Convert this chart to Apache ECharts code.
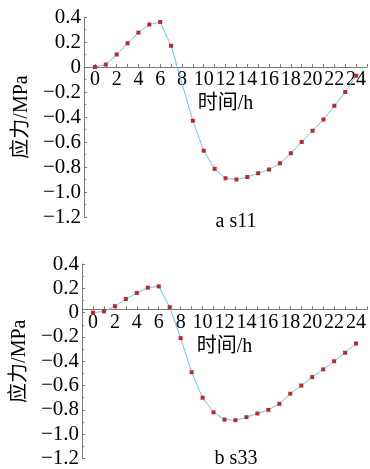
<!DOCTYPE html>
<html>
<head>
<meta charset="utf-8">
<script src="https://cdn.jsdelivr.net/npm/echarts@6/dist/echarts.min.js"></script>
<style>
	html, body { margin: 0; padding: 0; background: #fff; }
	#chart { width: 370px; height: 469px; }
</style>
</head>
<body>
<div id="chart"></div>
<script>
	// 时间 (h)
	var hours = [0, 1, 2, 3, 4, 5, 6, 7, 8, 9, 10, 11, 12, 13, 14, 15, 16, 17, 18, 19, 20, 21, 22, 23, 24];
	// a s11 (h8 无数据点)
	var s11 = [0, 0.02, 0.10, 0.19, 0.275, 0.34, 0.36, 0.17, null, -0.43, -0.67, -0.815, -0.89, -0.90, -0.88, -0.85, -0.82, -0.77, -0.69, -0.60, -0.51, -0.42, -0.31, -0.20, -0.07];
	// b s33
	var s33 = [0, 0.01, 0.053, 0.112, 0.162, 0.205, 0.216, 0.045, -0.21, -0.49, -0.70, -0.82, -0.88, -0.885, -0.86, -0.83, -0.80, -0.75, -0.667, -0.60, -0.53, -0.467, -0.40, -0.33, -0.254];
	var titles = ['a s11', 'b s33'];

	var font = '"Liberation Serif", "Noto Sans CJK SC", serif';
	var axisColor = '#7a7a7a';
	var fs = 20;

	function pairs(vals) {
		return hours.map(function (h, i) { return [h, vals[i]]; });
	}

	// x轴画在 y=0 处: 底部轴往上挪 (0 以下 6 格)
	function xAxis(idx, offset) {
		return {
			type: 'value', gridIndex: idx, min: -1, max: 25, interval: 1,
			position: 'bottom', offset: offset,
			name: '时间/h', nameLocation: 'middle', nameGap: 27,
			nameTextStyle: { fontFamily: font, fontSize: fs, color: '#000' },
			axisLine: { onZero: false, lineStyle: { color: axisColor } },
			axisTick: { inside: true, length: 3, lineStyle: { color: axisColor } },
			splitLine: { show: false },
			axisLabel: {
				fontFamily: font, fontSize: fs, color: '#000', margin: 3,
				formatter: function (v) { return (v >= 0 && v <= 24 && v % 2 === 0) ? String(v) : ''; }
			}
		};
	}

	function yAxis(idx) {
		return {
			type: 'value', gridIndex: idx, min: -1.2, max: 0.4, interval: 0.2,
			name: '应力/MPa', nameLocation: 'middle', nameGap: 50,
			nameTextStyle: { fontFamily: font, fontSize: fs, color: '#000' },
			axisLine: { show: true, onZero: false, lineStyle: { color: axisColor } },
			axisTick: { inside: true, length: 3, lineStyle: { color: axisColor } },
			minorTick: { show: true, splitNumber: 2, length: 2, lineStyle: { color: axisColor } },
			splitLine: { show: false },
			axisLabel: {
				fontFamily: font, fontSize: 21, color: '#000', margin: 3,
				formatter: function (v) {
					if (Math.abs(v) < 1e-9) return '0';
					return v.toFixed(1).replace('-', '\u2212');
				}
			}
		};
	}

	function series(idx, vals) {
		return {
			type: 'line', xAxisIndex: idx, yAxisIndex: idx, data: pairs(vals),
			connectNulls: true, symbol: 'rect', symbolSize: 4,
			itemStyle: { color: '#c0272d' },
			lineStyle: { color: '#6cc6ea', width: 1 },
			emphasis: { disabled: true }
		};
	}

	var titleStyle = { fontFamily: font, fontSize: fs, fontWeight: 'normal', color: '#000' };

	var chart = echarts.init(document.getElementById('chart'));
	chart.setOption({
		animation: false,
		title: [
			{ text: titles[0], left: 236, top: 212, textAlign: 'center', padding: 0, textStyle: titleStyle },
			{ text: titles[1], left: 236, top: 449, textAlign: 'center', padding: 0, textStyle: titleStyle }
		],
		grid: [
			{ left: 84, right: 0, top: 17, height: 200 },
			{ left: 82, right: -3, top: 264, height: 199 }
		],
		xAxis: [xAxis(0, -150), xAxis(1, -149.25)],
		yAxis: [yAxis(0), yAxis(1)],
		series: [series(0, s11), series(1, s33)]
	});
</script>
</body>
</html>
